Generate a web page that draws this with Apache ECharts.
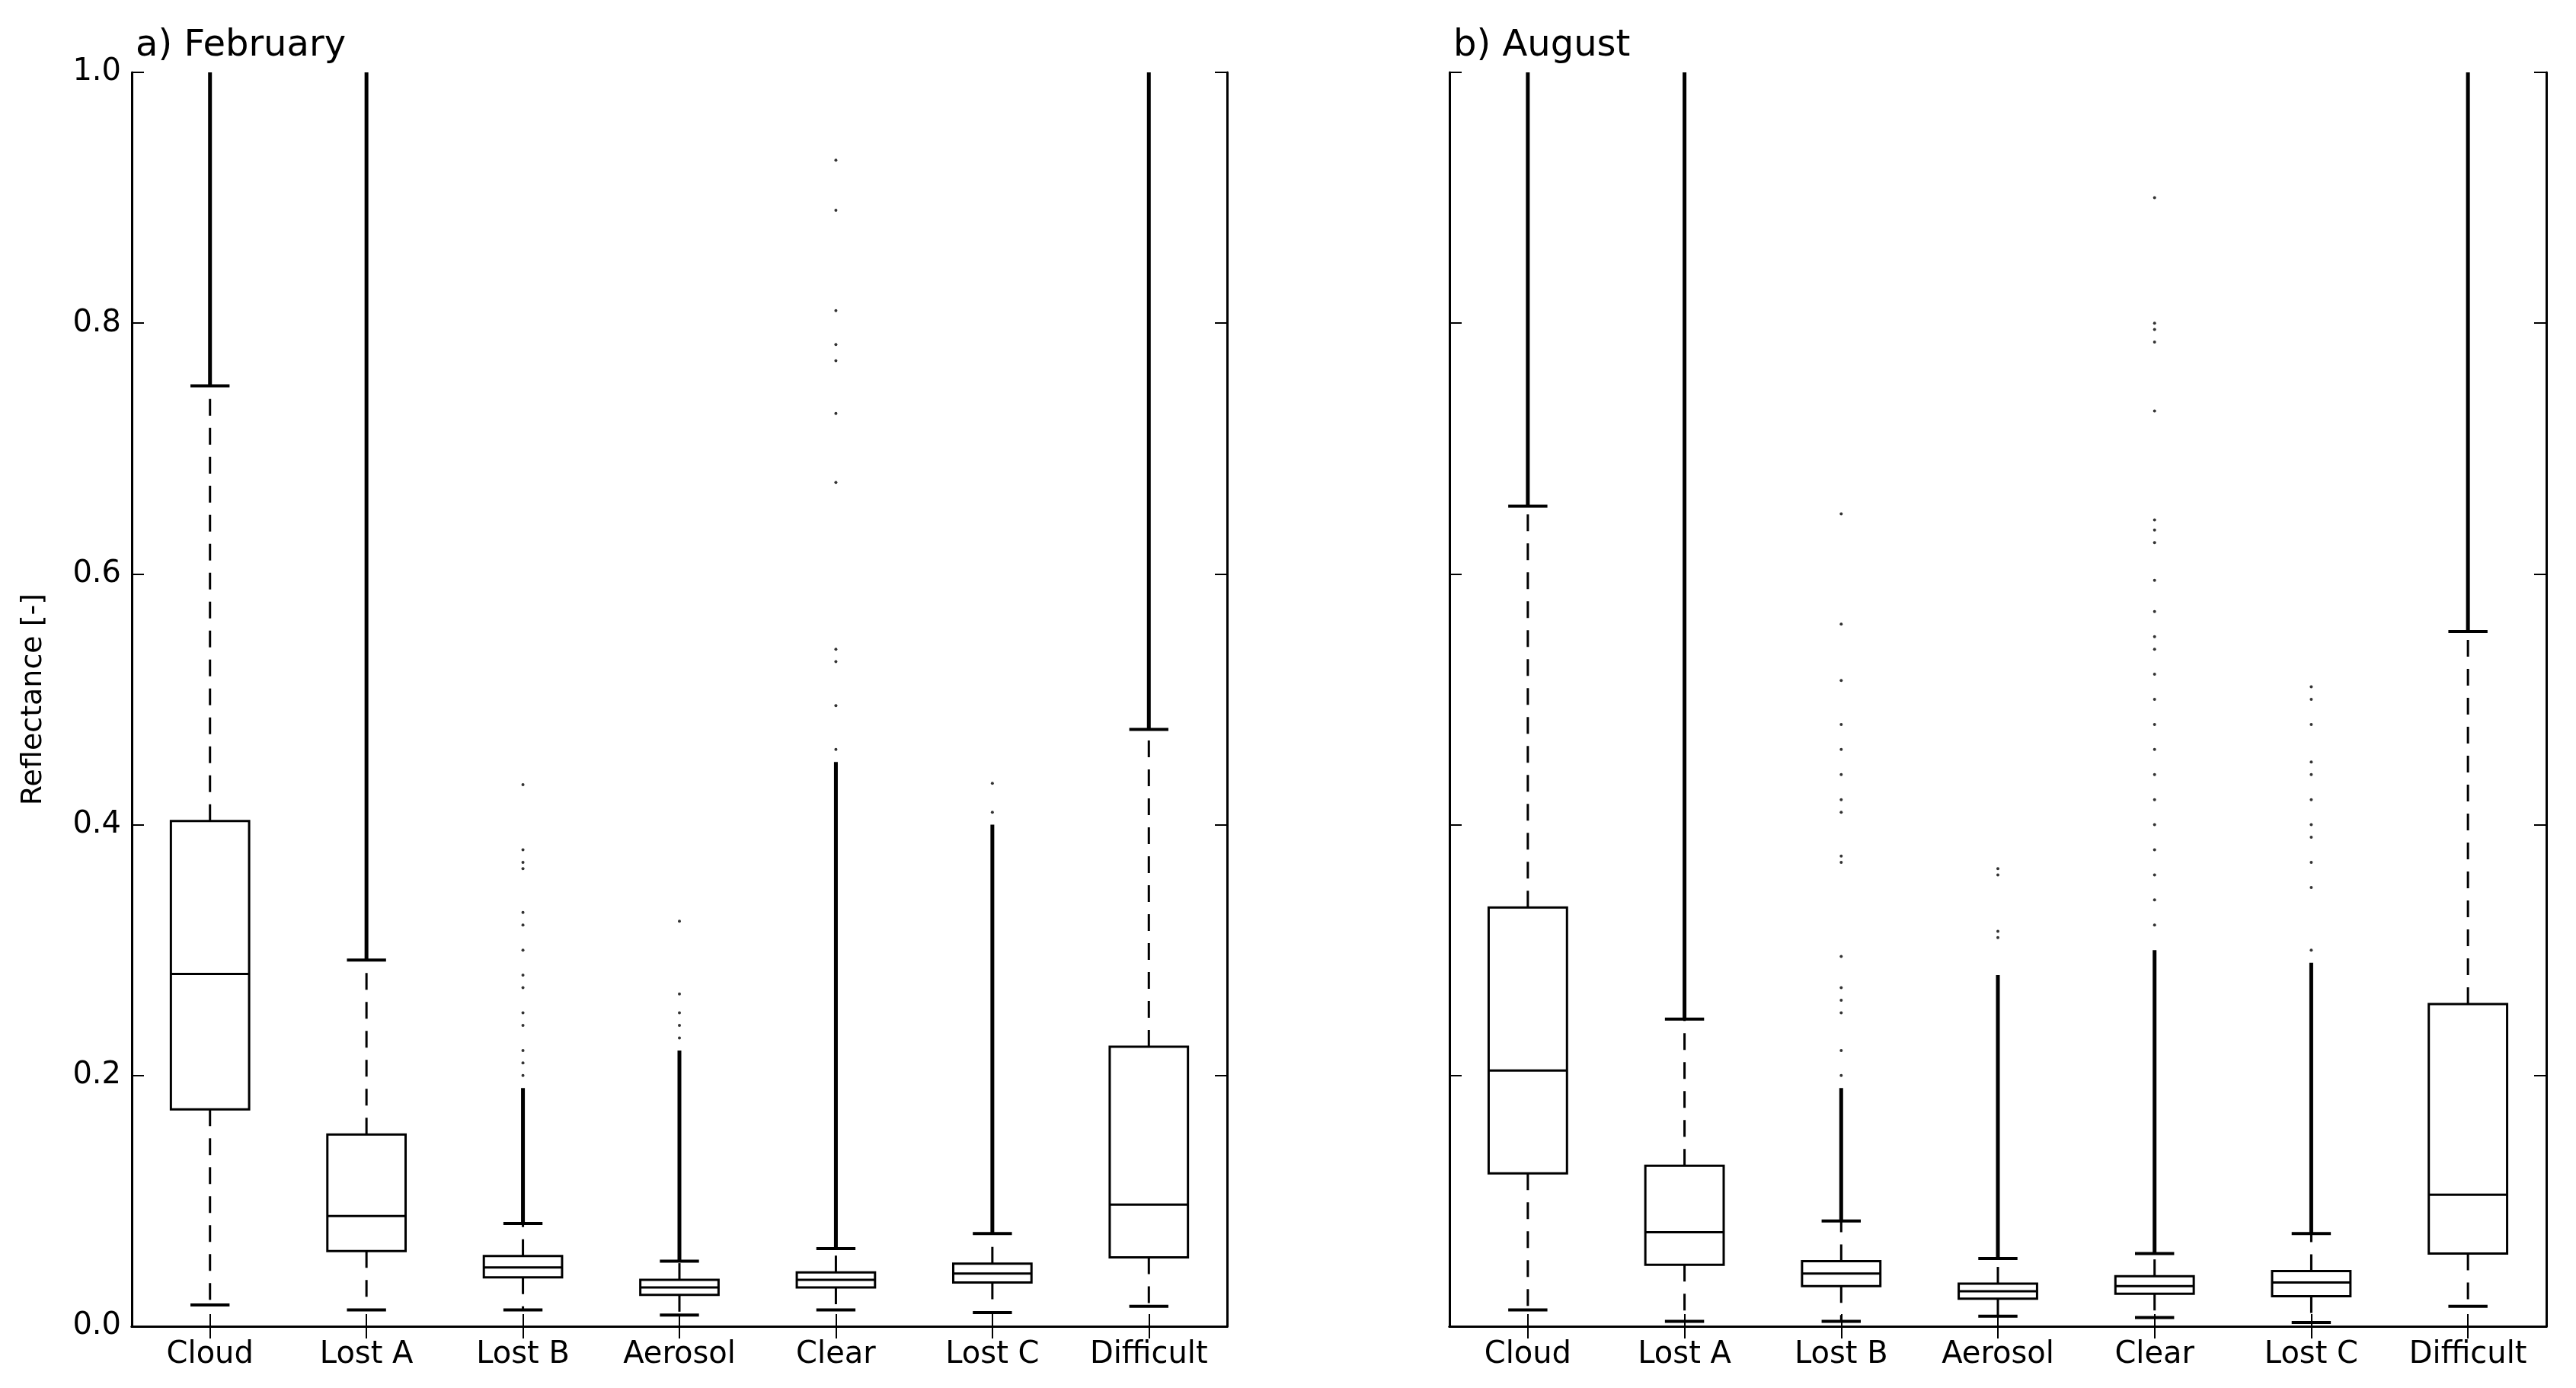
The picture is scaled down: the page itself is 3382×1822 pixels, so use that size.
<!DOCTYPE html>
<html>
<head>
<meta charset="utf-8">
<script src="https://cdn.jsdelivr.net/npm/echarts@6/dist/echarts.min.js"></script>
<style>html,body{margin:0;padding:0;background:#fff}#chart{width:3382px;height:1822px}</style>
</head>
<body>
<div id="chart"></div>
<script>
var categories = ['Cloud', 'Lost A', 'Lost B', 'Aerosol', 'Clear', 'Lost C', 'Difficult'];
var yTicks = [0, 0.2, 0.4, 0.6, 0.8, 1.0];

// [low whisker, Q1, median, Q3, high whisker]
var febStats = [
    [0.017, 0.173, 0.281, 0.403, 0.750],
    [0.013, 0.060, 0.088, 0.153, 0.292],
    [0.013, 0.039, 0.047, 0.056, 0.082],
    [0.009, 0.025, 0.031, 0.037, 0.052],
    [0.013, 0.031, 0.037, 0.043, 0.062],
    [0.011, 0.035, 0.042, 0.050, 0.074],
    [0.016, 0.055, 0.097, 0.223, 0.476]
];
var augStats = [
    [0.013, 0.122, 0.204, 0.334, 0.654],
    [0.004, 0.049, 0.075, 0.128, 0.245],
    [0.004, 0.032, 0.042, 0.052, 0.084],
    [0.008, 0.022, 0.028, 0.034, 0.054],
    [0.007, 0.026, 0.032, 0.040, 0.058],
    [0.003, 0.024, 0.035, 0.044, 0.074],
    [0.016, 0.058, 0.105, 0.257, 0.554]
];
// top of the dense run of outliers above the upper whisker
var febDenseTop = [1.0, 1.0, 0.19, 0.22, 0.45, 0.40, 1.0];
var augDenseTop = [1.0, 1.0, 0.19, 0.28, 0.30, 0.29, 1.0];
// sparse outliers, [category index, value]
var febSparse = [
    [2,0.20],[2,0.21],[2,0.22],[2,0.24],[2,0.25],[2,0.27],[2,0.28],[2,0.30],[2,0.32],[2,0.33],[2,0.365],[2,0.37],[2,0.38],[2,0.432],
    [3,0.23],[3,0.24],[3,0.25],[3,0.265],[3,0.323],
    [4,0.46],[4,0.495],[4,0.53],[4,0.54],[4,0.673],[4,0.728],[4,0.77],[4,0.783],[4,0.81],[4,0.89],[4,0.93],
    [5,0.41],[5,0.433]
];
var augSparse = [
    [2,0.20],[2,0.22],[2,0.25],[2,0.26],[2,0.27],[2,0.295],[2,0.37],[2,0.375],[2,0.41],[2,0.42],[2,0.44],[2,0.46],[2,0.48],[2,0.515],[2,0.56],[2,0.648],
    [3,0.31],[3,0.315],[3,0.36],[3,0.365],
    [4,0.32],[4,0.34],[4,0.36],[4,0.38],[4,0.40],[4,0.42],[4,0.44],[4,0.46],[4,0.48],[4,0.50],[4,0.52],[4,0.54],[4,0.55],[4,0.57],[4,0.595],[4,0.625],[4,0.635],[4,0.643],[4,0.73],[4,0.785],[4,0.795],[4,0.80],[4,0.90],
    [5,0.30],[5,0.35],[5,0.37],[5,0.39],[5,0.40],[5,0.42],[5,0.44],[5,0.45],[5,0.48],[5,0.50],[5,0.51]
];

function boxData(stats, dense) {
    return stats.map(function (s, i) { return [i].concat(s).concat([dense[i]]); });
}

function renderBox(params, api) {
    var x = api.value(0);
    var lo = api.coord([x, api.value(1)]);
    var q1 = api.coord([x, api.value(2)]);
    var md = api.coord([x, api.value(3)]);
    var q3 = api.coord([x, api.value(4)]);
    var hi = api.coord([x, api.value(5)]);
    var top = api.coord([x, api.value(6)]);
    var bw = api.size([1, 0])[0] * 0.5;
    var cw = bw * 0.5;
    var cx = lo[0];
    var solid = { stroke: '#000', lineWidth: 3, fill: null };
    var dashed = { stroke: '#000', lineWidth: 3, lineDash: [22, 16] };
    return {
        type: 'group',
        children: [
            { type: 'line', shape: { x1: cx, y1: top[1], x2: cx, y2: hi[1] }, style: { stroke: '#000', lineWidth: 5 } },
            { type: 'line', shape: { x1: cx, y1: q3[1], x2: cx, y2: hi[1] }, style: dashed },
            { type: 'line', shape: { x1: cx, y1: q1[1], x2: cx, y2: lo[1] }, style: dashed },
            { type: 'line', shape: { x1: cx - cw / 2, y1: hi[1], x2: cx + cw / 2, y2: hi[1] }, style: { stroke: '#000', lineWidth: 4 } },
            { type: 'line', shape: { x1: cx - cw / 2, y1: lo[1], x2: cx + cw / 2, y2: lo[1] }, style: { stroke: '#000', lineWidth: 4 } },
            { type: 'rect', shape: { x: cx - bw / 2, y: q3[1], width: bw, height: q1[1] - q3[1] }, style: { stroke: '#000', lineWidth: 3, fill: '#fff' } },
            { type: 'line', shape: { x1: cx - bw / 2, y1: md[1], x2: cx + bw / 2, y2: md[1] }, style: solid }
        ]
    };
}

var font = 'DejaVu Sans';
var lbl = { fontFamily: font, fontSize: 40, color: '#000' };
var axisLine = { show: true, lineStyle: { color: '#000', width: 3 } };
var tick = { show: true, inside: true, length: 16, lineStyle: { color: '#000', width: 2 } };

function xAxes(gi) {
    return [
        { gridIndex: gi, type: 'category', data: categories, axisLine: axisLine, axisTick: Object.assign({ alignWithLabel: true }, tick),
          axisLabel: Object.assign({ margin: 18, interval: 0 }, lbl), splitLine: { show: false } },
        { gridIndex: gi, type: 'category', data: categories, position: 'top', axisLine: axisLine, axisTick: Object.assign({ alignWithLabel: true }, tick),
          axisLabel: { show: false }, splitLine: { show: false } }
    ];
}
function yAxes(gi, showLabels) {
    var base = { gridIndex: gi, type: 'value', min: 0, max: 1, interval: 0.2, axisLine: axisLine, axisTick: tick, splitLine: { show: false } };
    return [
        Object.assign({}, base, {
            axisLabel: Object.assign({ show: showLabels, margin: 14, formatter: function (v) { return v.toFixed(1); } }, lbl),
            name: showLabels ? 'Reflectance [-]' : '', nameLocation: 'middle', nameGap: 110,
            nameTextStyle: { fontFamily: font, fontSize: 38, color: '#000' }
        }),
        Object.assign({}, base, { position: 'right', axisLabel: { show: false } })
    ];
}

var chart = echarts.init(document.getElementById('chart'));
chart.setOption({
    animation: false,
    backgroundColor: '#fff',
    title: [
        { text: 'a) February', left: 173, top: 32, textStyle: { fontFamily: font, fontSize: 48, fontWeight: 'normal', color: '#000' } },
        { text: 'b) August', left: 1903, top: 32, textStyle: { fontFamily: font, fontSize: 48, fontWeight: 'normal', color: '#000' } }
    ],
    grid: [
        { left: 173, width: 1438, top: 95, bottom: 81 },
        { left: 1903, width: 1440, top: 95, bottom: 81 }
    ],
    xAxis: xAxes(0).concat(xAxes(1)),
    yAxis: yAxes(0, true).concat(yAxes(1, false)),
    series: [
        { type: 'custom', xAxisIndex: 0, yAxisIndex: 0, renderItem: renderBox, data: boxData(febStats, febDenseTop), z: 3 },
        { type: 'custom', xAxisIndex: 2, yAxisIndex: 2, renderItem: renderBox, data: boxData(augStats, augDenseTop), z: 3 },
        { type: 'scatter', xAxisIndex: 0, yAxisIndex: 0, data: febSparse, symbol: 'circle', symbolSize: 4, itemStyle: { color: '#000' } },
        { type: 'scatter', xAxisIndex: 2, yAxisIndex: 2, data: augSparse, symbol: 'circle', symbolSize: 4, itemStyle: { color: '#000' } }
    ]
});
</script>
</body>
</html>
